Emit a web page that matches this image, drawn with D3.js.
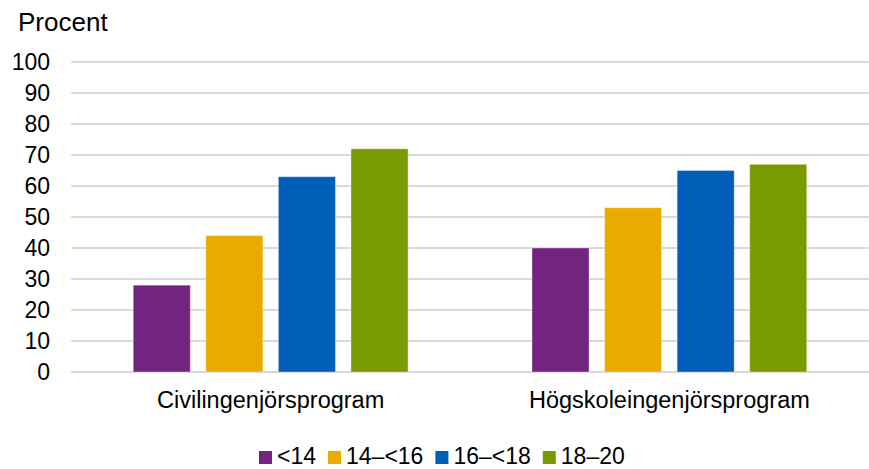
<!DOCTYPE html>
<html>
<head>
<meta charset="utf-8">
<script src="https://cdn.jsdelivr.net/npm/d3@7"></script>
<style>
  html, body { margin: 0; padding: 0; background: #fff; }
  svg { display: block; font-family: "Liberation Sans", Arial, sans-serif; }
</style>
</head>
<body>
<svg id="chart" width="869" height="469"></svg>
<script>
// Share (percent) by group and age band
const categories = ["Civilingenjörsprogram", "Högskoleingenjörsprogram"];
const seriesNames = ["<14", "14–<16", "16–<18", "18–20"];
const seriesValues = [
  [28, 40],   // <14
  [44, 53],   // 14–<16
  [63, 65],   // 16–<18
  [72, 67]    // 18–20
];
const seriesColors = ["#72257E", "#EAAB00", "#005EB8", "#7A9A01"];
const yTicks = [0, 10, 20, 30, 40, 50, 60, 70, 80, 90, 100];
const yTitle = "Procent";

const svg = d3.select("#chart");
const plot = { left: 71.25, right: 868.75, top: 62, bottom: 372 };

const y = d3.scaleLinear().domain([0, 100]).range([plot.bottom, plot.top]);
const x0 = d3.scaleBand().domain(categories).range([plot.left, plot.right]).padding(0);
const x1 = d3.scaleBand().domain(seriesNames)
  .range([62, x0.bandwidth() - 62]).paddingInner(0.214).paddingOuter(0);

// horizontal gridlines
svg.append("g").selectAll("line").data(yTicks).join("line")
  .attr("x1", plot.left).attr("x2", plot.right)
  .attr("y1", d => y(d)).attr("y2", d => y(d))
  .attr("stroke", "#d9d9d9").attr("stroke-width", 2);

// y axis labels
const yAxis = d3.axisLeft(y).tickValues(yTicks).tickSize(0).tickPadding(0);
const yg = svg.append("g").attr("transform", "translate(50,0)").call(yAxis);
yg.select(".domain").remove();
yg.selectAll("text")
  .attr("font-size", "23px").attr("fill", "#000")
  .attr("font-family", "'Liberation Sans', Arial, sans-serif");

svg.append("text").attr("x", 18).attr("y", 31)
  .attr("font-size", "26px").attr("fill", "#000").text(yTitle);

// bars
const rows = [];
seriesNames.forEach((s, si) => categories.forEach((c, ci) => {
  rows.push({ series: s, cat: c, value: seriesValues[si][ci], color: seriesColors[si] });
}));
svg.append("g").selectAll("rect").data(rows).join("rect")
  .attr("x", d => x0(d.cat) + x1(d.series))
  .attr("width", x1.bandwidth())
  .attr("y", d => y(d.value))
  .attr("height", d => y(0) - y(d.value))
  .attr("fill", d => d.color)
  .attr("stroke", "#ffffff").attr("stroke-opacity", 0.35).attr("stroke-width", 1);

// category labels
const xAxis = d3.axisBottom(x0).tickSize(0).tickPadding(0);
const xg = svg.append("g").attr("transform", `translate(0,${plot.bottom})`).call(xAxis);
xg.select(".domain").remove();
xg.selectAll("text")
  .attr("dy", null).attr("y", 36)
  .attr("font-size", "23.5px").attr("fill", "#000")
  .attr("font-family", "'Liberation Sans', Arial, sans-serif");

// legend
const legend = svg.append("g");
let lx = 259;
seriesNames.forEach((s, i) => {
  legend.append("rect").attr("x", lx).attr("y", 451).attr("width", 13).attr("height", 13)
    .attr("fill", seriesColors[i]);
  const t = legend.append("text").attr("x", lx + 18).attr("y", 464)
    .attr("font-size", "23px").attr("fill", "#000").text(s);
  lx += 18 + t.node().getComputedTextLength() + 12;
});
</script>
</body>
</html>
